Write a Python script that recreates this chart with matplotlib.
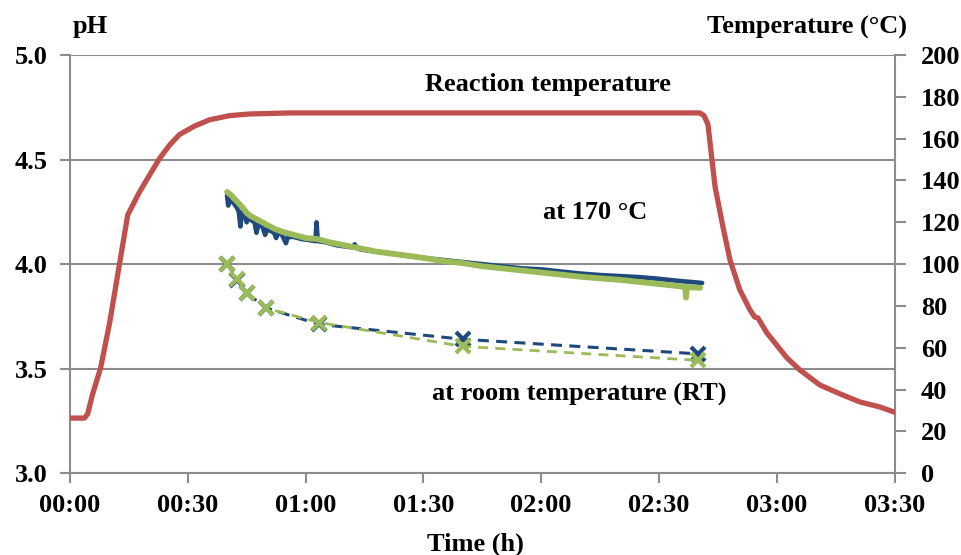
import matplotlib
matplotlib.use("Agg")
import matplotlib.pyplot as plt
from matplotlib.ticker import FuncFormatter, MultipleLocator

# --- data -------------------------------------------------------------
# reaction temperature (time in minutes, temperature in °C)
temp_time = [0, 3.7, 4.5, 5.7, 7.8, 10.1, 12.6, 14.7, 17.7, 20.3, 22.8, 25.4,
             27.9, 31.7, 35.5, 40.6, 45.7, 55.9, 83.9, 134.9, 160.4, 161.5,
             162.5, 163.5, 164.3, 166.3, 168.1, 170.6, 173.2, 174.4, 175.2,
             177.5, 182.6, 185.9, 191.0, 196.1, 201.2, 206.3, 210.0]
temp_values = [26.4, 26.4, 28.4, 37.5, 50.4, 72.0, 100.0, 123.5, 134.5, 142.7,
               150.5, 157.0, 162.0, 166.0, 169.0, 171.0, 171.8, 172.3, 172.3,
               172.3, 172.3, 171.0, 166.7, 150.0, 137.0, 117.9, 102.0, 87.7,
               78.1, 74.7, 74.3, 67.1, 55.2, 49.4, 42.2, 38.0, 34.1, 31.7, 29.2]

# pH measured in situ at 170 °C, run 1 (blue) and run 2 (green)
ph170_blue_time = [40.0, 40.3, 40.7, 41.2, 41.8, 42.5, 43.0, 43.4, 43.8, 44.5,
                   45.0, 45.5, 46.2, 47.0, 47.5, 48.0, 49.0, 49.7, 50.3, 51.0,
                   52.0, 52.5, 53.0, 54.0, 55.0, 55.5, 57.0, 59.0, 61.0, 62.5,
                   62.8, 63.1, 65, 68, 70, 72, 72.5, 73, 74, 78, 82, 86, 90, 95,
                   100, 105, 110, 115, 120, 125, 130, 135, 140, 145, 150, 155,
                   161]
ph170_blue = [4.33, 4.28, 4.32, 4.30, 4.29, 4.27, 4.25, 4.18, 4.25, 4.24,
              4.20, 4.23, 4.21, 4.20, 4.15, 4.19, 4.18, 4.14, 4.17, 4.16,
              4.15, 4.125, 4.15, 4.14, 4.10, 4.13, 4.13, 4.12, 4.115, 4.11,
              4.20, 4.11, 4.105, 4.09, 4.085, 4.08, 4.095, 4.078, 4.07, 4.06,
              4.05, 4.04, 4.03, 4.02, 4.01, 4.0, 3.99, 3.98, 3.975, 3.965,
              3.955, 3.948, 3.943, 3.938, 3.93, 3.92, 3.91]

ph170_green_time = [40, 41, 42, 43, 44, 45, 46, 48, 50, 52, 54, 56, 58, 60, 63,
                    66, 70, 74, 78, 84, 90, 95, 100, 105, 110, 115, 120, 125,
                    130, 135, 140, 145, 150, 155, 156.7, 156.9, 157.1, 160.5]
ph170_green = [4.345, 4.33, 4.31, 4.29, 4.27, 4.245, 4.23, 4.21, 4.19, 4.17,
               4.155, 4.145, 4.135, 4.125, 4.12, 4.105, 4.09, 4.075, 4.06,
               4.045, 4.03, 4.015, 4.005, 3.99, 3.98, 3.97, 3.96, 3.95, 3.94,
               3.932, 3.925, 3.915, 3.905, 3.895, 3.89, 3.84, 3.89, 3.887]

# pH of samples measured at room temperature
rt_time = [40, 42.5, 45, 50, 63.5, 100, 160]
rt_blue = [4.003, 3.925, 3.862, 3.790, 3.712, 3.641, 3.571]
rt_green = [4.001, 3.928, 3.864, 3.789, 3.721, 3.607, 3.540]

x_ticks = [0, 30, 60, 90, 120, 150, 180, 210]

# --- styling ------------------------------------------------------------
BLUE = "#1F497D"
GREEN = "#9BBB59"
RED = "#C0504D"
AXIS_GREY = "#8C8C8C"
FS = 19

plt.rcParams["font.family"] = ["Liberation Serif", "DejaVu Serif"]
plt.rcParams["font.weight"] = "bold"

fig = plt.figure(figsize=(9.61, 5.55), dpi=100)
ax = fig.add_axes([70 / 961, 1 - 473.3 / 555, (894.5 - 70) / 961, (473.3 - 55) / 555])
ax2 = ax.twinx()

ax.set_ylim(3.0, 5.0)
ax.set_xlim(0, 210)
ax.yaxis.set_major_locator(MultipleLocator(0.5))
ax.set_axisbelow(True)
ax.yaxis.grid(True, color=AXIS_GREY, linewidth=1.5)

# temperature curve on the secondary axis
ax2.set_ylim(0, 200)
ax2.yaxis.set_major_locator(MultipleLocator(20))
ax2.plot(temp_time, temp_values, color=RED, linewidth=3.8,
         solid_capstyle="round", solid_joinstyle="round", zorder=3)

# pH curves
ax.plot(ph170_blue_time, ph170_blue, color=BLUE, linewidth=3.3,
        solid_capstyle="round", solid_joinstyle="round", zorder=2)
ax.plot(ph170_green_time, ph170_green, color=GREEN, linewidth=4.2,
        solid_capstyle="round", solid_joinstyle="round", zorder=3)
ax.plot(rt_time, rt_blue, color=BLUE, linestyle=(0, (3.6, 2.4)), linewidth=2.2,
        marker="x", markersize=9.5, markeredgewidth=3, zorder=4)
ax.plot(rt_time, rt_green, color=GREEN, linestyle=(0, (3.6, 2.6)), linewidth=2.0,
        marker="x", markersize=9.5, markeredgewidth=3, zorder=5)

# axes appearance
for a in (ax, ax2):
    a.spines["top"].set_visible(False)
    for s in ("left", "right", "bottom"):
        a.spines[s].set_color(AXIS_GREY)
        a.spines[s].set_linewidth(1.5)
    a.set_xlim(0, 210)
ax.spines["right"].set_visible(False)
ax2.spines["left"].set_visible(False)
ax2.spines["bottom"].set_visible(False)

ax.set_xticks(x_ticks)
ax.xaxis.set_major_formatter(
    FuncFormatter(lambda v, _: f"{int(v) // 60:02d}:{int(v) % 60:02d}"))
ax.yaxis.set_major_formatter(FuncFormatter(lambda v, _: f"{v:.1f}"))

ax.tick_params(axis="x", direction="out", length=7, width=1.5, color=AXIS_GREY,
               labelsize=FS, pad=8)
ax.tick_params(axis="y", direction="out", length=7, width=1.5, color=AXIS_GREY,
               labelsize=FS, pad=9)
ax2.tick_params(axis="y", direction="out", length=8, width=1.5, color=AXIS_GREY,
                labelsize=FS, pad=11)

# annotations
ax.text(121.7, 4.858, "Reaction temperature", ha="center", va="center",
        fontsize=FS, fontweight="bold")
ax.text(133.7, 4.245, "at 170 °C", ha="center", va="center",
        fontsize=FS, fontweight="bold")
ax.text(129.8, 3.379, "at room temperature (RT)", ha="center", va="center",
        fontsize=FS, fontweight="bold")

fig.text(90 / 961, 1 - 27 / 555, "pH", ha="center", va="center",
         fontsize=FS, fontweight="bold")
fig.text(807 / 961, 1 - 27 / 555, "Temperature (°C)", ha="center", va="center",
         fontsize=FS, fontweight="bold")
fig.text(475 / 961, 1 - 544 / 555, "Time (h)", ha="center", va="center",
         fontsize=FS, fontweight="bold")

fig.savefig("out.png", dpi=100)
